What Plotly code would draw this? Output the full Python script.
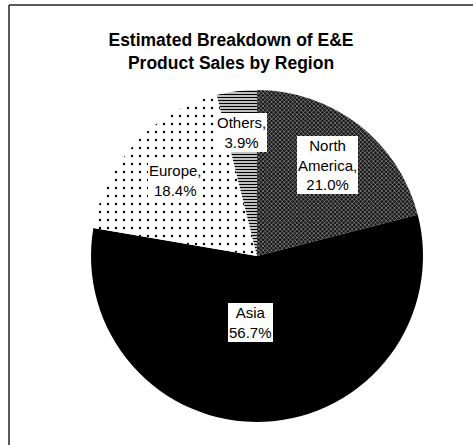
import math
import plotly.graph_objects as go

# ---- data ----
regions = ["North America", "Asia", "Europe", "Others"]
shares = [21.0, 56.7, 18.4, 3.9]
label_texts = ["North<br>America,<br>21.0%", "Asia<br>56.7%", "Europe,<br>18.4%", "Others,<br>3.9%"]
title_text = "<b>Estimated Breakdown of E&E<br>Product Sales by Region</b>"

# ---- style ----
W, H = 473, 445
CX, CY, R = 257, 256, 166          # pie centre / radius in pixels
label_radius = [0.69, 0.40, 0.67, 0.75]
label_xshift = [0, -9, 0, 0]
bg_colors = ["#151515", "#000000", "#ffffff", "#ffffff"]
fg_colors = ["#c8c8c8", "#000000", "#000000", "#000000"]
shapes_pat = ["x", "", ".", "-"]
sizes_pat = [3, 8, 8, 3]
solid_pat = [0.3, 0.0, 0.07, 0.5]
FONT = "Liberation Sans, Arial, sans-serif"

fig = go.Figure(go.Pie(
    labels=regions,
    values=shares,
    sort=False,
    direction="clockwise",
    rotation=0,
    textinfo="none",
    hoverinfo="label+percent",
    showlegend=False,
    marker=dict(
        colors=bg_colors,
        line=dict(width=0),
        pattern=dict(shape=shapes_pat, fgcolor=fg_colors, bgcolor=bg_colors,
                     size=sizes_pat, solidity=solid_pat, fillmode="replace"),
    ),
    domain=dict(x=[(CX - R) / W, (CX + R) / W],
                y=[(H - (CY + R)) / H, (H - (CY - R)) / H]),
))

# label boxes placed at each slice's mid-angle (computed from the data)
total = sum(shares)
cum = 0.0
annotations = []
for i, v in enumerate(shares):
    mid = (cum + v / 2) / total * 2 * math.pi
    cum += v
    px = CX + label_radius[i] * R * math.sin(mid)
    py = CY - label_radius[i] * R * math.cos(mid)
    annotations.append(dict(
        x=px / W, y=1 - py / H, xref="paper", yref="paper",
        text=label_texts[i], showarrow=False, xshift=label_xshift[i],
        font=dict(family=FONT, size=15, color="#000000"),
        bgcolor="#ffffff", borderpad=1, borderwidth=0,
        xanchor="center", yanchor="middle", align="center",
    ))

frame = dict(color="#222222", width=1.5)
fig.update_layout(
    width=W, height=H, autosize=False,
    margin=dict(l=0, r=0, t=0, b=0),
    paper_bgcolor="#ffffff", plot_bgcolor="#ffffff",
    title=dict(text=title_text, x=231 / W, y=1 - 46 / H,
               xanchor="center", yanchor="middle", xref="paper", yref="container",
               font=dict(family=FONT, size=17.5, color="#000000")),
    annotations=annotations,
    shapes=[
        dict(type="line", xref="paper", yref="paper",
             x0=9 / W, x1=1, y0=1 - 5 / H, y1=1 - 5 / H, line=frame),
        dict(type="line", xref="paper", yref="paper",
             x0=9 / W, x1=9 / W, y0=0, y1=1 - 5 / H, line=frame),
    ],
)

fig.write_html("out.html")
